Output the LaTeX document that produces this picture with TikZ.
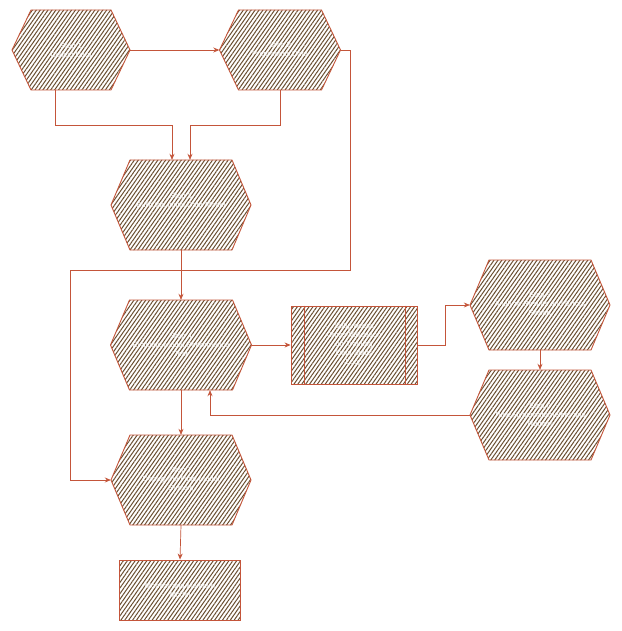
\documentclass[tikz,border=0pt]{standalone}
\usepackage{fontspec}
\setsansfont{Liberation Sans}
\usetikzlibrary{patterns.meta,calc,arrows.meta}
\definecolor{strokec}{RGB}{196,85,58}
\definecolor{hatchc}{RGB}{105,78,48}
\tikzset{
  lbl/.style={text=white, font=\sffamily\fontsize{7.5}{9}\selectfont, align=center, inner sep=0pt},
  shapefill/.style={draw=strokec, line width=0.9pt, pattern={Lines[angle=55,distance=3.2pt,line width=1pt]}, pattern color=hatchc},
  conn/.style={draw=strokec, line width=0.7pt, -{Stealth[length=6pt,width=5pt]}},
  divline/.style={draw=strokec, line width=0.9pt},
}
\newcommand{\myhex}[6]{%
  \path[shapefill] ({#2-#4/2},#3) -- ({#2-#4/2+19},{#3-#5/2}) -- ({#2+#4/2-19},{#3-#5/2}) -- ({#2+#4/2},#3) -- ({#2+#4/2-19},{#3+#5/2}) -- ({#2-#4/2+19},{#3+#5/2}) -- cycle;
  \node[lbl, minimum width=#4pt, minimum height=#5pt] (#1) at (#2,#3) {#6};}
\begin{document}
\begin{tikzpicture}[x=1pt,y=-1pt]
\useasboundingbox[fill=white] (0,0) rectangle (621,631);
\myhex{A}{71}{50}{118}{80}{Step 1\\Collect Data}
\myhex{B}{280}{50}{121}{80}{Step 2\\Preprocess Data}
\myhex{C}{181}{205}{140}{90}{Step 3\\Build the Initial Data Model\\}
\myhex{D}{181}{345}{141}{90}{Step 4\\Evaluate Model Performance\\Test}
\myhex{F}{540}{305}{140}{90}{Step 5\\Analyze Results and Errors\\Report}
\myhex{G}{540}{415}{140}{90}{Step 6\\Tune Hyperparameters and\\Retrain}
\myhex{H}{181}{480}{140}{90}{Step 7\\Deploy the Final Model\\System}
\node[lbl, shapefill, minimum width=126pt, minimum height=78pt] (E) at (354,345) {Subprocess\\Cross-Validation\\on Training\\Data Splits\\Loop};
\draw[divline] ($(E.north west)+(14,0)$) -- ($(E.south west)+(14,0)$);
\draw[divline] ($(E.north east)+(-12,0)$) -- ($(E.south east)+(-12,0)$);
\node[lbl, shapefill, minimum width=121pt, minimum height=60pt] (I) at (180,590) {Monitor and Maintain\\Model};
\draw[conn] (A.east) -- (B.west);
\draw[conn] ($(A.south)+(-16,0)$) -- ++(0,35) -| ($(C.north)+(-9,0)$);
\draw[conn] (B.south) -- ++(0,35) -| ($(C.north)+(9,0)$);
\coordinate (r1) at (350,50);
\coordinate (r2) at (350,270);
\coordinate (r3) at (70,270);
\draw[conn] (B.east) -- (r1) -- (r2) -- (r3) |- (H.west);
\draw[conn] (C.south) -- (D.north);
\draw[conn] (D.east) -- (E.west);
\draw[conn] (E.east) -- ++(28,0) |- (F.west);
\draw[conn] (F.south) -- (G.north);
\draw[conn] (G.west) -| ($(D.south)+(29,0)$);
\draw[conn] (D.south) -- (H.north);
\draw[conn] (H.south) -- (I.north);
\end{tikzpicture}
\end{document}
